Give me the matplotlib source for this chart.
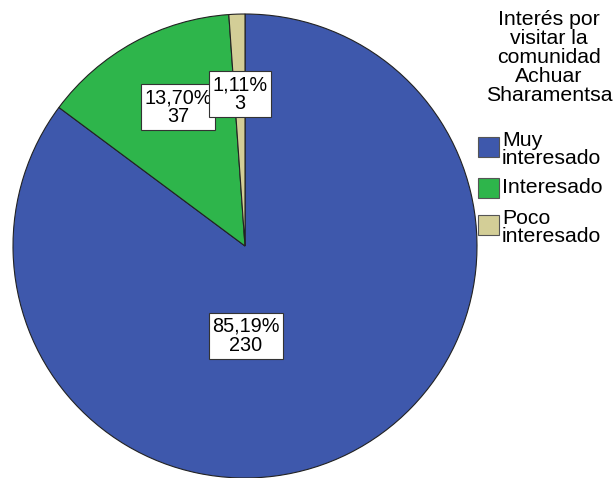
import matplotlib
matplotlib.use("Agg")
import matplotlib.pyplot as plt
from matplotlib.patches import Rectangle

categories = ["Muy\ninteresado", "Interesado", "Poco\ninteresado"]
counts = [230, 37, 3]
percents = ["85,19%", "13,70%", "1,11%"]
colors = ["#3E58AC", "#2EB54B", "#D3CE97"]
legend_title = "Interés por\nvisitar la\ncomunidad\nAchuar\nSharamentsa"

plt.rcParams['font.family'] = ['Liberation Sans', 'DejaVu Sans']

W, H = 614, 478
FS = 15.3
LFS = 14.3
fig = plt.figure(figsize=(W / 100, H / 100), dpi=100)
ax = fig.add_axes([0, 0, 1, 1])

cx, cy, r = 245, H - 246, 232
wedges, _ = ax.pie(counts, colors=colors, startangle=90, counterclock=False,
                   center=(cx, cy), radius=r, frame=True,
                   wedgeprops=dict(edgecolor='#222222', linewidth=0.8))
ax.set_xlim(0, W)
ax.set_ylim(0, H)
ax.set_aspect('equal')
ax.axis('off')

label_pos = [(246, H - 336), (178, H - 107), (240, H - 94)]
for i, ((x, y), p, c) in enumerate(zip(label_pos, percents, counts)):
    ax.text(x, y, f"{p}\n{c}", ha='center', va='center', fontsize=LFS,
            linespacing=1.0, zorder=5 + i,
            bbox=dict(boxstyle='square,pad=0.18', facecolor='white',
                      edgecolor='#333333', linewidth=0.8))

fig.text(549 / W, 1 - 10 / H, legend_title, ha='center', va='top',
         fontsize=FS, linespacing=1.0)

# legend drawn manually (pixel layout of the reference)
patch_tops = [137, 178, 215]
text_tops = [131, 178, 209]
for c, lab, pt, tt in zip(colors, categories, patch_tops, text_tops):
    fig.patches.append(Rectangle((478 / W, 1 - (pt + 20) / H), 21 / W, 20 / H,
                                 transform=fig.transFigure, facecolor=c,
                                 edgecolor='#555555', linewidth=0.8))
    fig.text(502 / W, 1 - tt / H, lab, ha='left', va='top', fontsize=FS,
             linespacing=0.9)

fig.savefig("out.png", dpi=100)
